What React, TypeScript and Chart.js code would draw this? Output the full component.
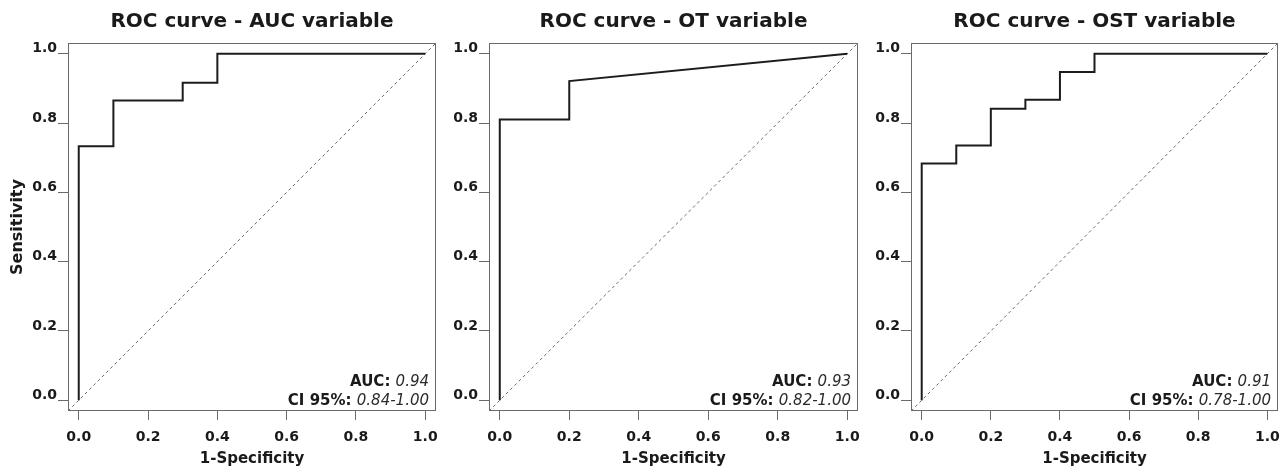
import React, { useEffect, useRef } from "react";
import { Chart, registerables } from "chart.js";

Chart.register(...registerables);

// ---------- data ----------
const panelTitles = ["ROC curve - AUC variable", "ROC curve - OT variable", "ROC curve - OST variable"];

const fprAUC = [0, 0, 0.1, 0.1, 0.3, 0.3, 0.4, 0.4, 1.0];
const tprAUC = [0, 0.733, 0.733, 0.865, 0.865, 0.916, 0.916, 1.0, 1.0];

const fprOT = [0, 0, 0.2, 0.2, 1.0];
const tprOT = [0, 0.81, 0.81, 0.921, 1.0];

const fprOST = [0, 0, 0.1, 0.1, 0.2, 0.2, 0.3, 0.3, 0.4, 0.4, 0.5, 0.5, 1.0];
const tprOST = [0, 0.683, 0.683, 0.735, 0.735, 0.841, 0.841, 0.867, 0.867, 0.947, 0.947, 1.0, 1.0];

const aucValues = ["0.94", "0.93", "0.91"];
const ciValues = ["0.84-1.00", "0.82-1.00", "0.78-1.00"];

const tickValues = [0, 0.2, 0.4, 0.6, 0.8, 1.0];
const axisRange = [-0.031, 1.031];
const xAxisTitle = "1-Specificity";
const yAxisTitle = "Sensitivity";

const curves = [
  { fpr: fprAUC, tpr: tprAUC },
  { fpr: fprOT, tpr: tprOT },
  { fpr: fprOST, tpr: tprOST },
];

// ---------- layout / style ----------
const FONT = "'DejaVu Sans', 'Liberation Sans', Arial, sans-serif";
const TEXT = "#1a1a1a";
const FRAME = "#6a6a6a";

const panelLayout = [
  { left: 0, width: 440, yAxisWidth: 68, padRight: 4, showYTitle: true },
  { left: 440, width: 422, yAxisWidth: 49, padRight: 4, showYTitle: false },
  { left: 862, width: 426, yAxisWidth: 49, padRight: 10, showYTitle: false },
];
const HEIGHT = 472;
const X_AXIS_HEIGHT = 61;

const frameAndNotePlugin = {
  id: "frameAndNote",
  afterDatasetsDraw(chart: any, _args: any, opts: any) {
    const { ctx, chartArea } = chart;
    const { left, top, right, bottom } = chartArea;
    ctx.save();
    ctx.strokeStyle = FRAME;
    ctx.lineWidth = 1;
    ctx.strokeRect(left + 0.5, top + 0.5, right - left - 1, bottom - top - 1);

    const lines = [
      { label: "AUC: ", value: opts.auc, dy: 25 },
      { label: "CI 95%: ", value: opts.ci, dy: 6 },
    ];
    ctx.textBaseline = "alphabetic";
    ctx.textAlign = "right";
    const xr = right - 7;
    for (const ln of lines) {
      const y = bottom - ln.dy;
      ctx.font = `italic 400 15px ${FONT}`;
      ctx.fillStyle = "#2b2b2b";
      const w = ctx.measureText(ln.value).width;
      ctx.fillText(ln.value, xr, y);
      ctx.font = `700 15px ${FONT}`;
      ctx.fillStyle = TEXT;
      ctx.fillText(ln.label, xr - w, y);
    }
    ctx.restore();
  },
};

function makeScale(axis: "x" | "y", cfg: any) {
  const isX = axis === "x";
  return {
    type: "linear",
    position: isX ? "bottom" : "left",
    min: axisRange[0],
    max: axisRange[1],
    afterBuildTicks: (s: any) => {
      s.ticks = tickValues.map((v) => ({ value: v }));
    },
    afterFit: (s: any) => {
      if (isX) s.height = X_AXIS_HEIGHT;
      else s.width = cfg.yAxisWidth;
      s.paddingLeft = 0;
      s.paddingRight = 0;
      s.paddingTop = 0;
      s.paddingBottom = 0;
    },
    border: { display: false },
    grid: {
      display: true,
      drawOnChartArea: false,
      drawTicks: true,
      tickLength: isX ? 9 : 10,
      tickColor: FRAME,
      tickWidth: 1,
    },
    ticks: {
      autoSkip: false,
      maxRotation: 0,
      minRotation: 0,
      padding: isX ? 9 : 1,
      labelOffset: isX ? 0 : -5,
      color: TEXT,
      font: { family: FONT, size: 14, weight: "bold" },
      callback: (v: any) => Number(v).toFixed(1),
    },
    title: isX
      ? {
          display: true,
          text: xAxisTitle,
          color: TEXT,
          font: { family: FONT, size: 15, weight: "bold" },
          padding: { top: 0, bottom: 4 },
        }
      : {
          display: cfg.showYTitle,
          text: yAxisTitle,
          color: TEXT,
          font: { family: FONT, size: 16, weight: "bold" },
          padding: { top: 8, bottom: 0 },
        },
  };
}

function RocPanel({ index }: { index: number }) {
  const ref = useRef<HTMLCanvasElement | null>(null);
  const cfg = panelLayout[index];
  useEffect(() => {
    if (!ref.current) return;
    const curve = curves[index];
    const chart = new Chart(ref.current, {
      type: "scatter",
      data: {
        datasets: [
          {
            label: "ROC",
            data: curve.fpr.map((x, i) => ({ x, y: curve.tpr[i] })),
            showLine: true,
            borderColor: "#1c1c1c",
            borderWidth: 2,
            pointRadius: 0,
            pointHoverRadius: 0,
            tension: 0,
            borderJoinStyle: "miter",
            borderCapStyle: "butt",
          },
          {
            label: "Reference",
            data: axisRange.map((v) => ({ x: v, y: v })),
            showLine: true,
            borderColor: "#6a6a6a",
            borderWidth: 1,
            borderDash: [3, 3],
            pointRadius: 0,
            pointHoverRadius: 0,
          },
        ],
      } as any,
      options: {
        responsive: false,
        maintainAspectRatio: false,
        animation: false,
        devicePixelRatio: 1,
        layout: { padding: { left: 0, right: cfg.padRight, top: 0, bottom: 0 } },
        scales: {
          x: makeScale("x", cfg),
          y: makeScale("y", cfg),
        } as any,
        plugins: {
          legend: { display: false },
          tooltip: { enabled: false },
          title: {
            display: true,
            text: panelTitles[index],
            fullSize: false,
            color: TEXT,
            font: { family: FONT, size: 20, weight: "bold", lineHeight: 1.2 },
            padding: { top: 10, bottom: 9 },
          },
          frameAndNote: { auc: aucValues[index], ci: ciValues[index] },
        } as any,
      },
      plugins: [frameAndNotePlugin],
    });
    return () => chart.destroy();
  }, [index]);
  return (
    <canvas
      ref={ref}
      width={cfg.width}
      height={HEIGHT}
      style={{ position: "absolute", left: cfg.left, top: 0, width: cfg.width, height: HEIGHT }}
    />
  );
}

export default function App() {
  return (
    <div
      style={{
        position: "fixed",
        left: 0,
        top: 0,
        width: 1288,
        height: HEIGHT,
        background: "#ffffff",
        overflow: "hidden",
      }}
    >
      {panelTitles.map((_, i) => (
        <RocPanel key={i} index={i} />
      ))}
    </div>
  );
}
